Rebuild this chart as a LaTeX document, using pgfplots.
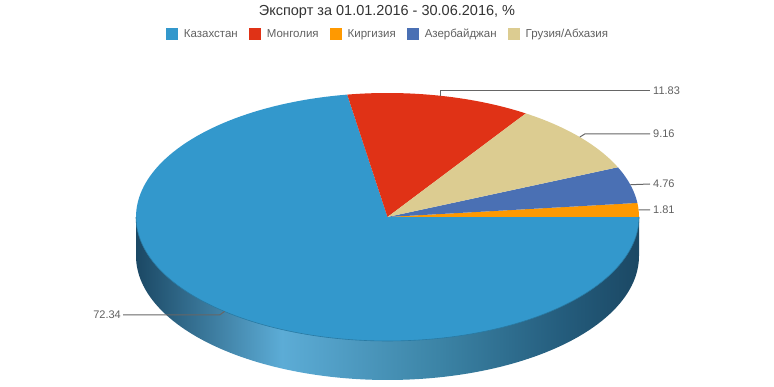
\documentclass[border=0pt]{standalone}
\usepackage{pgfplots}
\pgfplotsset{compat=1.18}
\usepackage{fontspec}
\setmainfont{Liberation Sans}
\definecolor{cK}{RGB}{51,152,204}
\definecolor{cM}{RGB}{224,50,22}
\definecolor{cG}{RGB}{255,153,0}
\definecolor{cA}{RGB}{74,112,180}
\definecolor{cE}{RGB}{220,204,145}
\definecolor{sd0}{RGB}{27,72,100}
\definecolor{sd1}{RGB}{92,172,214}
\definecolor{sd2}{RGB}{60,132,166}
\definecolor{sd3}{RGB}{36,92,124}
\definecolor{txt}{RGB}{51,51,51}
\definecolor{lbl}{RGB}{96,96,96}
\definecolor{ldr}{RGB}{102,102,102}
% tikz maps the path's box onto 25bp..75bp of the shading
\pgfdeclarehorizontalshading{pieside}{100bp}{color(0bp)=(sd0); color(25bp)=(sd0); color(39.5bp)=(sd1); color(55bp)=(sd2); color(67.5bp)=(sd3); color(75bp)=(sd0); color(100bp)=(sd0)}
% values (percent)
\def\vK{72.34}
\def\vM{11.83}
\def\vG{1.81}
\def\vA{4.76}
\def\vE{9.16}
\def\pcx{387.5}
\def\pcy{170}
\def\prx{251.5}
\def\pry{124}
\def\pdep{39}
\pgfmathsetmacro\aG{3.6*\vG}
\pgfmathsetmacro\aA{\aG+3.6*\vA}
\pgfmathsetmacro\aE{\aA+3.6*\vE}
\pgfmathsetmacro\aM{\aE+3.6*\vM}
\pgfmathsetmacro\mG{\aG/2}
\pgfmathsetmacro\mA{(\aG+\aA)/2}
\pgfmathsetmacro\mE{(\aA+\aE)/2}
\pgfmathsetmacro\mM{(\aE+\aM)/2}
\pgfmathsetmacro\mK{(\aM+360)/2}
\pgfmathsetmacro\xM{\pcx+\prx*cos(\mM)}\pgfmathsetmacro\yM{\pcy+\pry*sin(\mM)}
\pgfmathsetmacro\xE{\pcx+\prx*cos(\mE)}\pgfmathsetmacro\yE{\pcy+\pry*sin(\mE)}
\pgfmathsetmacro\xA{\pcx+\prx*cos(\mA)}\pgfmathsetmacro\yA{\pcy+\pry*sin(\mA)}
\pgfmathsetmacro\xG{\pcx+\prx*cos(\mG)}\pgfmathsetmacro\yG{\pcy+\pry*sin(\mG)}
\pgfmathsetmacro\xK{\pcx+\prx*cos(\mK)}\pgfmathsetmacro\yK{\pcy+\pry*sin(\mK)}
\pgfmathsetmacro\xEb{\xE+5}
\pgfmathsetmacro\xKb{\xK-5}
\pgfmathsetmacro\pR{\pcx+\prx}
\pgfmathsetmacro\pL{\pcx-\prx}
\begin{document}
\begin{tikzpicture}
\begin{axis}[
  scale only axis, width=774pt, height=387pt,
  xmin=0, xmax=774, ymin=0, ymax=387,
  hide axis, clip=false,
  legend columns=5,
  legend image code/.code={\fill[#1] (0pt,-6pt) rectangle (12pt,6pt);},
  legend style={at={(axis cs:387,353)}, anchor=center, draw=none, fill=none,
    font=\fontsize{11.5}{13}\selectfont, text=lbl,
    nodes={inner sep=0pt},
    /tikz/every odd column/.append style={column sep=6pt},
    /tikz/every even column/.append style={column sep=11pt}},
]
\addplot[draw=none, forget plot] coordinates {(0,0) (774,387)};
% side
\addplot[forget plot, draw=none, shade, shading=pieside, domain=180:360, samples=120, variable=\t]
  ({\pcx+\prx*cos(t)},{\pcy-\pdep+\pry*sin(t)}) -- (axis cs:\pR,\pcy) -- (axis cs:\pL,\pcy) -- cycle;
% top slices
\addplot[fill=cK, draw=none, domain=\aM:360, samples=150, variable=\t]
  ({\pcx+\prx*cos(t)},{\pcy+\pry*sin(t)}) -- (axis cs:\pcx,\pcy) -- cycle;
\addlegendentry{Казахстан}
\addplot[fill=cM, draw=none, domain=\aE:\aM, samples=40, variable=\t]
  ({\pcx+\prx*cos(t)},{\pcy+\pry*sin(t)}) -- (axis cs:\pcx,\pcy) -- cycle;
\addlegendentry{Монголия}
\addplot[fill=cG, draw=none, domain=0:\aG, samples=10, variable=\t]
  ({\pcx+\prx*cos(t)},{\pcy+\pry*sin(t)}) -- (axis cs:\pcx,\pcy) -- cycle;
\addlegendentry{Киргизия}
\addplot[fill=cA, draw=none, domain=\aG:\aA, samples=20, variable=\t]
  ({\pcx+\prx*cos(t)},{\pcy+\pry*sin(t)}) -- (axis cs:\pcx,\pcy) -- cycle;
\addlegendentry{Азербайджан}
\addplot[fill=cE, draw=none, domain=\aA:\aE, samples=30, variable=\t]
  ({\pcx+\prx*cos(t)},{\pcy+\pry*sin(t)}) -- (axis cs:\pcx,\pcy) -- cycle;
\addlegendentry{Грузия/Абхазия}
% front rim line
\addplot[forget plot, draw=cK!80!black, line width=0.6pt, domain=180:360, samples=120, variable=\t]
  ({\pcx+\prx*cos(t)},{\pcy+\pry*sin(t)});
% leader lines
\addplot[forget plot, ldr, line width=1pt] coordinates {(\xM,\yM) (\xM,296) (650,296)};
\addplot[forget plot, ldr, line width=1pt] coordinates {(\xE,\yE) (\xEb,253) (650,253)};
\addplot[forget plot, ldr, line width=1pt] coordinates {(\xA,\yA) (650,203)};
\addplot[forget plot, ldr, line width=1pt] coordinates {(\xG,\yG) (650,177)};
\addplot[forget plot, ldr, line width=1pt] coordinates {(\xK,\yK) (\xKb,72) (123,72)};
\node[anchor=west, text=lbl, font=\fontsize{11}{13}\selectfont, inner sep=0pt] at (axis cs:653,296) {\vM};
\node[anchor=west, text=lbl, font=\fontsize{11}{13}\selectfont, inner sep=0pt] at (axis cs:653,253) {\vE};
\node[anchor=west, text=lbl, font=\fontsize{11}{13}\selectfont, inner sep=0pt] at (axis cs:653,203) {\vA};
\node[anchor=west, text=lbl, font=\fontsize{11}{13}\selectfont, inner sep=0pt] at (axis cs:653,177) {\vG};
\node[anchor=east, text=lbl, font=\fontsize{11}{13}\selectfont, inner sep=0pt] at (axis cs:121,72) {\vK};
% title
\node[text=txt, font=\fontsize{14.5}{17}\selectfont] at (axis cs:387,375) {Экспорт за 01.01.2016 - 30.06.2016, \%};
\end{axis}
\end{tikzpicture}
\end{document}
